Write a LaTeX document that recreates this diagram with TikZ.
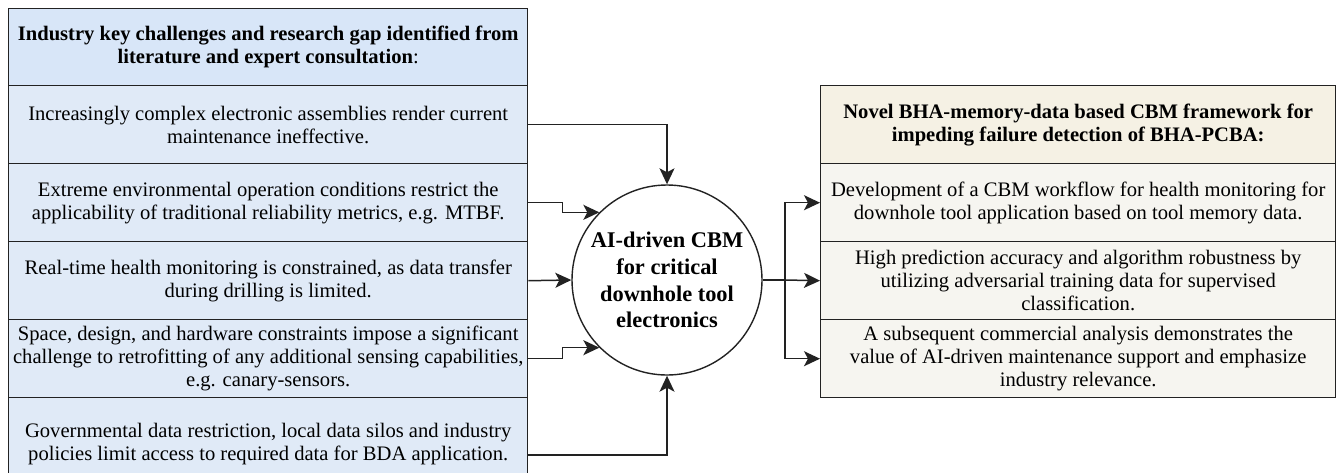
\documentclass[tikz,border=0pt]{standalone}
\usepackage{fontspec}
\setmainfont{Liberation Serif}
\usetikzlibrary{arrows.meta}
\definecolor{lhead}{HTML}{D8E6F8}
\definecolor{lrow}{HTML}{E0EAF7}
\definecolor{rhead}{HTML}{F5F1E4}
\definecolor{rrow}{HTML}{F6F5F0}
\definecolor{edge}{HTML}{222222}
\tikzset{
  cell/.style={draw=edge, line width=1.4pt, inner sep=0pt, align=center, anchor=north west,
    font=\fontsize{20.6}{23}\selectfont},
  lcell/.style={cell, minimum width=519pt, minimum height=78pt, fill=lrow},
  rcell/.style={cell, minimum width=515pt, minimum height=78pt, fill=rrow},
  hub/.style={circle, draw=edge, line width=1.4pt, fill=white, minimum size=190pt, inner sep=0pt,
    align=center, font=\fontsize{22.4}{26.7}\selectfont\bfseries},
  arr/.style={draw=edge, line width=1.5pt, -{Stealth[length=16pt,width=15pt,inset=4pt]}},
  link/.style={draw=edge, line width=1.5pt}
}
\begin{document}
\begin{tikzpicture}[x=1pt,y=-1pt]
\useasboundingbox (0,0) rectangle (1341,472);
\begin{scope}
\clip (0,0) rectangle (1341,472);
% left column
\node[lcell, fill=lhead, minimum height=77pt] (lh) at (8,8) {\bfseries Industry key challenges and research gap identified from\\ \textbf{literature and expert consultation}\mdseries:};
\node[lcell] (l1) at (8,85) {Increasingly complex electronic assemblies render current\\ maintenance ineffective.};
\node[lcell] (l2) at (8,163) {Extreme environmental operation conditions restrict the\\ applicability of traditional reliability metrics, e.g. MTBF.};
\node[lcell] (l3) at (8,241) {Real-time health monitoring is constrained, as data transfer\\ during drilling is limited.};
\node[lcell] (l4) at (8,319) {Space, design, and hardware constraints impose a significant\\ challenge to retrofitting of any additional sensing capabilities,\\ e.g. canary-sensors.};
\node[lcell, minimum height=92pt] (l5) at (8,397) {Governmental data restriction, local data silos and industry\\ policies limit access to required data for BDA application.};
\end{scope}
% hub
\node[hub] (circ) at (667,280) {AI-driven CBM\\ for critical\\ downhole tool\\ electronics};
% right column
\node[rcell, fill=rhead] (rh) at (820,85) {\bfseries Novel BHA-memory-data based CBM framework for\\ \bfseries impeding failure detection of BHA-PCBA:};
\node[rcell] (r1) at (820,163) {Development of a CBM workflow for health monitoring for\\ downhole tool application based on tool memory data.};
\node[rcell] (r2) at (820,241) {High prediction accuracy and algorithm robustness by\\ utilizing adversarial training data for supervised\\ classification.};
\node[rcell] (r3) at (820,319) {A subsequent commercial analysis demonstrates the\\ value of AI-driven maintenance support and emphasize\\ industry relevance.};
% left connectors
\draw[arr] (l1.east) -| (circ.north);
\draw[arr] (l2.east) -- ++(34,0) |- (circ.135);
\draw[arr] (l3.east) -- (circ.west);
\draw[arr] (l4.east) -- ++(34,0) |- (circ.225);
\coordinate (l5out) at (527,455);
\draw[arr] (l5out) -| (circ.south);
% right connectors
\coordinate (split) at (785,280);
\draw[link] (circ.east) -- (split);
\draw[arr] (split) |- (r1.west);
\draw[arr] (split) -- (r2.west);
\draw[arr] (split) |- (r3.west);
\end{tikzpicture}
\end{document}
